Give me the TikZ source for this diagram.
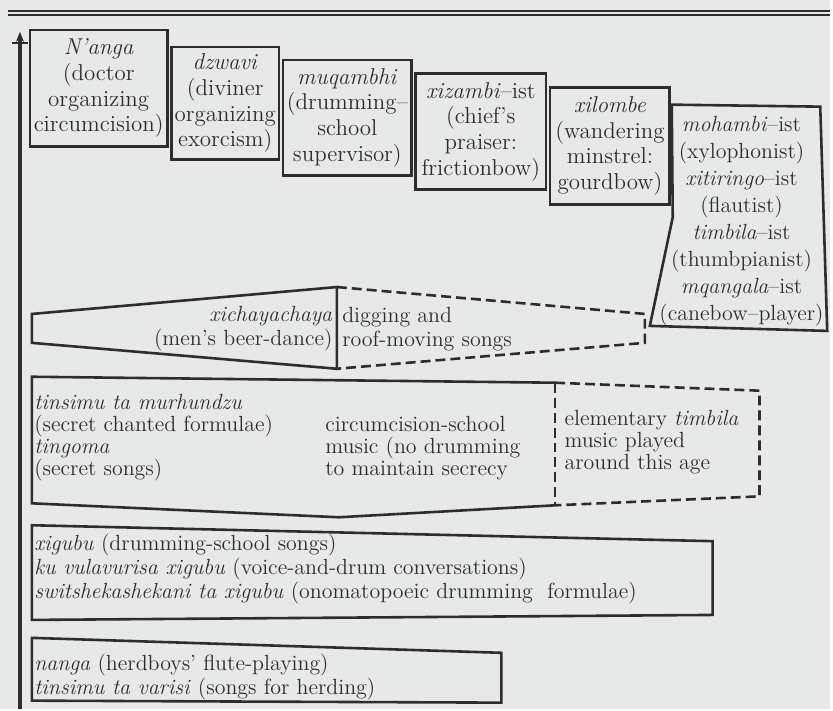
\documentclass[tikz,border=0pt]{standalone}
\usepackage{tikz}
\usetikzlibrary{arrows.meta}
\usepackage{xcolor}
\definecolor{paper}{RGB}{231,233,233}
\definecolor{ink}{RGB}{45,45,45}

\begin{document}
\begin{tikzpicture}[x=0.5pt,y=-0.5pt,
    band/.style={draw=ink,line width=1.3pt,line join=miter},
    later/.style={band,dash pattern=on 5pt off 2.5pt},
    songs/.style={text=ink,inner sep=0pt,align=left,font=\fontsize{11}{11}\selectfont}]
    \fill[paper] (0,0) rectangle (833,711);
    \draw[ink,line width=0.8pt,double=paper,double distance=1.2pt] (8,13) -- (833,13);
    \draw[ink,line width=1.6pt,{Stealth[length=5pt,width=4pt]}-] (20,32) -- (20,711);
    \draw[ink,line width=0.8pt] (12,43) -- (28,43);

    \begin{scope}[every node/.style={draw=ink,text=ink,line width=1.3pt,align=center,
        inner sep=0pt,font=\fontsize{11.5}{12.9}\selectfont}]
      \node[minimum width=69pt,minimum height=58.5pt] (doctor) at (99,88.5)
        {\textit{N'anga}\\(doctor\\organizing\\circumcision)};
      \node[minimum width=54pt,minimum height=56.5pt] (diviner) at (226,103.5)
        {\textit{dzwavi}\\(diviner\\organizing\\exorcism)};
      \node[minimum width=64.5pt,minimum height=58pt] (supervisor) at (348.5,118)
        {\textit{muqambhi}\\(drumming--\\school\\supervisor)};
      \node[minimum width=65.5pt,minimum height=58pt] (praiser) at (482.5,132)
        {\textit{xizambi}--ist\\(chief's\\praiser:\\frictionbow)};
      \node[minimum width=60pt,minimum height=58.5pt] (minstrel) at (612,146.5)
        {\textit{xilombe}\\(wandering\\minstrel:\\gourdbow)};
    \end{scope}

    \draw[band] (674,105) -- (823,107) -- (830,332) -- (652,327) -- (675,218) -- cycle;
    \node[songs,align=center,font=\fontsize{11}{13.6}\selectfont] (players) at (744,222)
      {\textit{mohambi}--ist\\(xylophonist)\\\textit{xitiringo}--ist\\(flautist)\\
       \textit{timbila}--ist\\(thumbpianist)\\\textit{mqangala}--ist\\(canebow--player)};

    \draw[band] (338,288) -- (32,315) -- (32,344) -- (338,370) -- cycle;
    \draw[later] (338,288) -- (647,315) -- (647,344) -- (338,370);
    \node[songs,anchor=east,align=right,font=\fontsize{11}{12}\selectfont] (beerdance) at (334,330)
      {\textit{xichayachaya}\\(men's beer-dance)};
    \node[songs,anchor=west,font=\fontsize{11}{12}\selectfont] (digging) at (343,330)
      {digging and\\roof-moving songs};

    \draw[band] (557,384) -- (32,378) -- (32,505) -- (340,519) -- (557,507);
    \draw[later] (557,384) -- (557,507);
    \draw[later] (557,384) -- (762,392) -- (762,498) -- (557,507);
    \node[songs,anchor=west] (secret) at (34,439)
      {\textit{tinsimu ta murhundzu}\\(secret chanted formulae)\\\textit{tingoma}\\(secret songs)};
    \node[songs,anchor=west] (school) at (326,450)
      {circumcision-school\\music (no drumming\\to maintain secrecy};
    \node[songs,anchor=west] (elementary) at (566,444)
      {elementary \textit{timbila}\\music played\\around this age};

    \draw[band] (32,527) -- (715,543) -- (715,617) -- (32,622) -- cycle;
    \node[songs,anchor=west] (drumming) at (34,571)
      {\textit{xigubu} (drumming-school songs)\\
       \textit{ku vulavurisa xigubu} (voice-and-drum conversations)\\
       \textit{switshekashekani ta xigubu} (onomatopoeic drumming\ \ formulae)};

    \draw[band] (32,640) -- (503,655) -- (503,705) -- (32,703) -- cycle;
    \node[songs,anchor=west] (herding) at (34,679)
      {\textit{nanga} (herdboys' flute-playing)\\\textit{tinsimu ta varisi} (songs for herding)};
\end{tikzpicture}
\end{document}
